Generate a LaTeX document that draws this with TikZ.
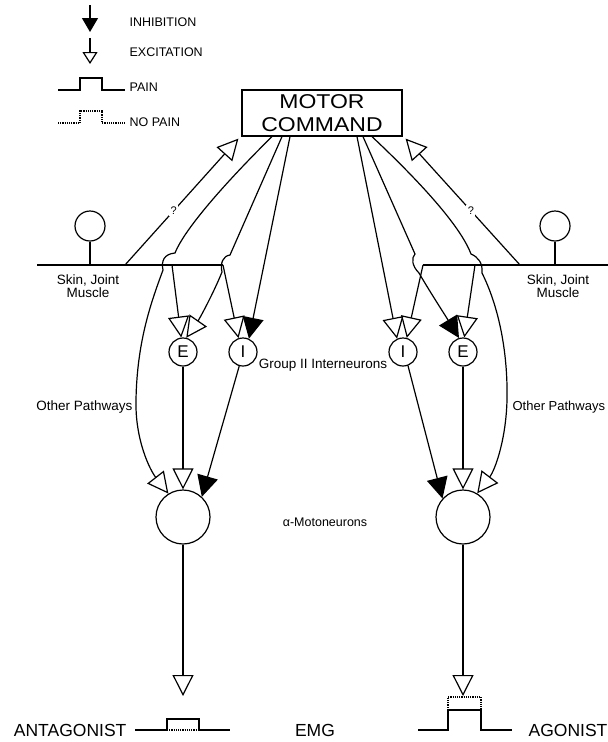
\documentclass[tikz,border=0pt]{standalone}
\usepackage{fontspec}
\setmainfont{Liberation Sans}
\newfontfamily\widesans[FakeStretch=1.15]{Liberation Sans}
\usetikzlibrary{arrows.meta,positioning}
\begin{document}
\begin{tikzpicture}[x=1pt,y=-1pt,line width=1.2pt,
  exc/.style={-{Triangle[open,length=21pt,width=21pt]}},
  inh/.style={-{Triangle[length=21pt,width=21pt]}},
  cell/.style={circle,draw,inner sep=0pt,minimum size=28pt,font=\fontsize{17}{17}\selectfont},
  mn/.style={circle,draw,minimum size=54pt},
  rec/.style={circle,draw,minimum size=30pt},
  lbl/.style={font=\fontsize{13.5}{13}\selectfont,align=center,inner sep=1pt},
  legtxt/.style={font=\fontsize{12.5}{13}\selectfont,inner sep=1pt},
  bigtxt/.style={font=\fontsize{17.5}{18}\selectfont,inner sep=1pt},
  qmark/.style={font=\fontsize{11}{11}\selectfont,fill=white,inner sep=1.5pt}]
\useasboundingbox (0,0) rectangle (608,742);

\draw[-{Triangle[length=14pt,width=16pt]}] (90,5) -- (90,32);
\draw[-{Triangle[open,length=12pt,width=15pt]}] (90,38) -- (90,64);
\node[legtxt,anchor=west] (inhTxt) at (128,22) {INHIBITION};
\node[legtxt,anchor=west] (excTxt) at (128,52) {EXCITATION};
\draw (58,90) -| (80,78) -| (102,90) -- (125,90);
\node[legtxt,anchor=west] (painTxt) at (128,87) {PAIN};
\draw[densely dotted] (58,123) -| (80,111) -| (102,123) -- (125,123);
\node[legtxt,anchor=west] (noPainTxt) at (128,122) {NO PAIN};

\node[draw,minimum width=160pt,minimum height=46pt,align=center,
  font=\widesans\fontsize{20}{23}\selectfont] (motor) at (322,113) {MOTOR\\COMMAND};

\node[rec] (recL) at (90,226) {};
\node[rec] (recR) at (555,226) {};
\coordinate (hL0) at (37,265); \coordinate (hL1) at (223,265);
\coordinate (hR0) at (423,265); \coordinate (hR1) at (608,265);
\coordinate (bL) at (172,265); \coordinate (bR) at (475,265);
\coordinate (qL) at (125,265); \coordinate (qR) at (520,265);
\draw (hL0) -- (hL1);
\draw (hR0) -- (hR1);
\draw (recL) -- (recL |- hL0);
\draw (recR) -- (recR |- hR0);
\node[lbl] (skinL) at (88,286) {Skin, Joint\\Muscle};
\node[lbl] (skinR) at (558,286) {Skin, Joint\\Muscle};

\foreach \n/\x/\t in {eL/183/E,iL/243/I,iR/403/I,eR/463/E}
  \node[cell] (\n) at (\x,352) {\t};
\node[mn] (mnL) at (183,517) {};
\node[mn] (mnR) at (463,517) {};

\draw[exc] (qL) -- node[pos=0.43,qmark] (qmL) {?} ([xshift=-3pt,yshift=-2pt]motor.south west);
\draw[exc] (qR) -- node[pos=0.43,qmark] (qmR) {?} ([xshift=3pt,yshift=-2pt]motor.south east);

\draw[exc] ([xshift=-50pt]motor.south) .. controls (228,180) and (185,228) .. (175,253)
  .. controls (164,254) and (161,261) .. (163,270)
  .. controls (152,300) and (137,340) .. (136,400)
  .. controls (135,440) and (150,470) .. (mnL.122);
\draw[exc] ([xshift=-40pt]motor.south) -- (230,255)
  .. controls (223,256) and (220,263) .. (222,272)
  .. controls (214,292) and (200,318) .. (eL.77);
\draw[inh] ([xshift=-32pt]motor.south) -- (iL.66);
\draw[exc] (bL) -- (eL.97);
\draw[exc] (hL1) -- (iL.108);

\draw[exc] ([xshift=35pt]motor.south) -- (iR.114);
\draw[inh] ([xshift=41pt]motor.south) -- (415,254)
  .. controls (411,258) and (412,266) .. (419,273)
  .. controls (430,292) and (445,315) .. (eR.106);
\draw[exc] ([xshift=50pt]motor.south) .. controls (418,180) and (460,225) .. (471,254)
  .. controls (478,257) and (483,263) .. (482,273)
  .. controls (498,305) and (508,350) .. (507,400)
  .. controls (506,440) and (495,470) .. (mnR.59);
\draw[exc] (hR0) -- (iR.75);
\draw[exc] (bR) -- (eR.85);

\draw[exc] (eL) -- (mnL);
\draw[inh] (iL.255) -- (mnL.47);
\draw[exc] (eR) -- (mnR);
\draw[inh] (iR.290) -- (mnR.138);

\node[lbl,anchor=east] (othL) at (134,407) {Other Pathways};
\node[lbl,anchor=west,font=\fontsize{13}{13}\selectfont] (othR) at (511,407) {Other Pathways};
\node[lbl] (grp) at (323,365) {Group II Interneurons};
\node[legtxt] (alpha) at (325,522) {α-Motoneurons};

\coordinate (outL) at (183,696); \coordinate (outR) at (463,696);
\draw[exc] (mnL) -- (outL);
\draw[exc] (mnR) -- (outR);

\draw (135,730) -| (167,719) -| (199,730) -- (230,730);
\draw[densely dotted] (167,730) -- (199,730);
\node[bigtxt,anchor=east] (antag) at (128,730) {ANTAGONIST};
\node[bigtxt] (emg) at (315,730) {EMG};
\draw (418,730) -| (448,710) -| (481,730) -- (512,730);
\draw[densely dotted] (448,710) |- (481,697) -- (481,710);
\node[bigtxt,anchor=west] (agon) at (527,730) {AGONIST};
\end{tikzpicture}
\end{document}
